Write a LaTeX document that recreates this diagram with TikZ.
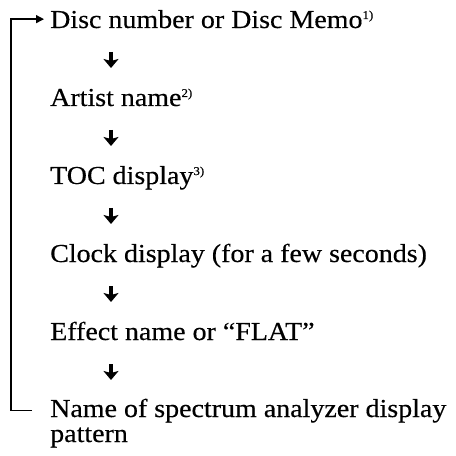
\documentclass[tikz,border=0pt]{standalone}
\usepackage{fontspec}
\setmainfont{Liberation Serif}[FakeStretch=1.08,FakeBold=0.4]
\usetikzlibrary{arrows.meta,calc}
\newcommand\fnmark[1]{\raisebox{9bp}{\fontsize{12}{12}\selectfont #1}}
\begin{document}
\begin{tikzpicture}[x=1bp,y=-1bp,
  line/.style={anchor=base west,inner sep=0pt,font=\fontsize{26}{26}\selectfont},
  fatarrow/.style={line width=4bp,-{Stealth[width=15bp,length=9bp,inset=2bp]}},
  loopline/.style={line width=1.3bp,-{Triangle[width=8bp,length=8bp]}}]
\useasboundingbox (0,0) rectangle (456,456);
\node[line] (disc) at (50,28) {Disc number or Disc Memo\fnmark{1)}};
\node[line] (artist) at (50,106) {Artist name\fnmark{2)}};
\node[line] (toc) at (50,184) {TOC display\fnmark{3)}};
\node[line] (clock) at (50,262) {Clock display (for a few seconds)};
\node[line] (effect) at (50,340) {Effect name or “FLAT”};
\node[line] (name) at (50,417) {Name of spectrum analyzer display};
\node[line] (pat) at (50,442) {pattern};
\foreach \n in {disc,artist,toc,clock,effect}{
  \draw[fatarrow] ($(\n.base west)+(61,24)$) -- ($(\n.base west)+(61,40)$);
}
\draw[loopline] ($(name.west)+(-18,0)$) -| ($(disc.west)+(-39,0)$) -- ($(disc.west)+(-6,0)$);
\end{tikzpicture}
\end{document}
